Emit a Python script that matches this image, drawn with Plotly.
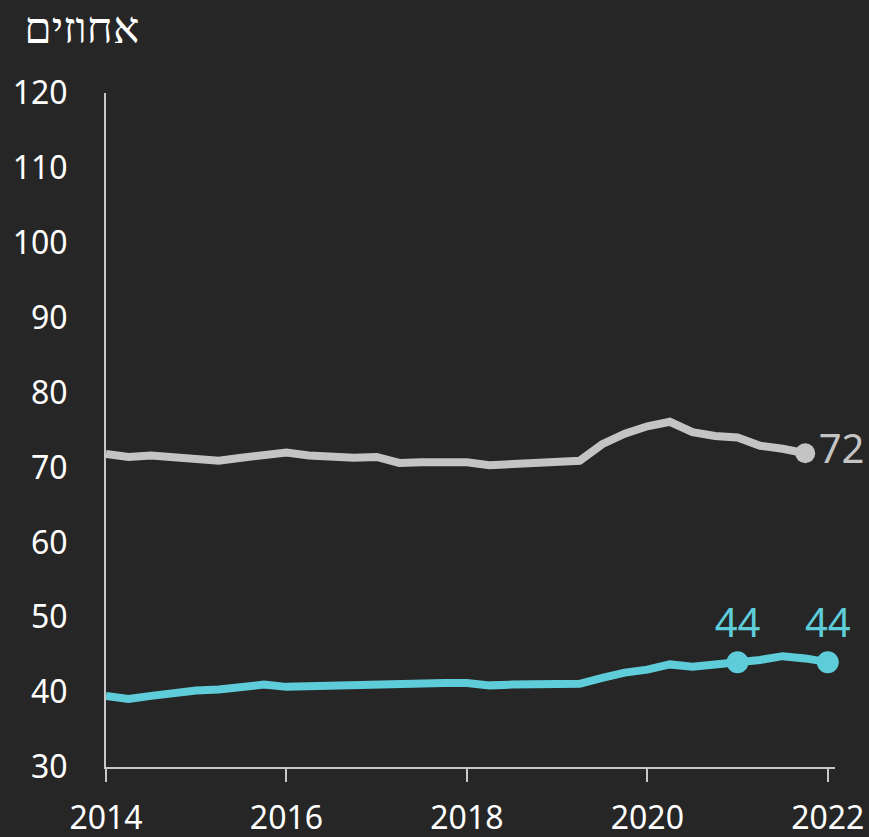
import plotly.graph_objects as go

quarters = [2014 + i * 0.25 for i in range(33)]

gray_values = [71.8, 71.4, 71.6, 71.4, 71.2, 70.9, 71.3, 71.7, 72.0, 71.6, 71.4, 71.3,
               71.4, 70.6, 70.7, 70.8, 70.7, 70.3, 70.4, 70.5, 70.6, 70.9, 73.1, 74.5,
               75.5, 76.1, 74.7, 74.2, 74.0, 72.9, 72.5, 71.9]
cyan_values = [39.5, 39.1, 39.5, 39.9, 40.2, 40.35, 40.7, 41.0, 40.7, 40.8, 40.9, 41.05,
               41.1, 41.1, 41.2, 41.2, 41.2, 40.9, 41.0, 41.0, 40.9, 41.1, 41.9, 42.6,
               43.0, 43.7, 43.4, 43.8, 44.0, 44.3, 44.8, 44.5, 44.0]

gray_label = "72"
cyan_label_idx = [28, 32]
cyan_labels = ["44", "44"]

BG = "#262626"
GRAY = "#c4c4c4"
CYAN = "#5ecdd9"
AXIS = "#c8c8c8"
FONT = "Noto Sans"

fig = go.Figure()

fig.add_trace(go.Scatter(x=quarters[:len(gray_values)], y=gray_values, mode="lines",
                         line=dict(color=GRAY, width=8), hoverinfo="skip"))
fig.add_trace(go.Scatter(x=quarters, y=cyan_values, mode="lines",
                         line=dict(color=CYAN, width=8), hoverinfo="skip"))

# end markers with labels
fig.add_trace(go.Scatter(x=[quarters[len(gray_values) - 1]], y=[gray_values[-1]],
                         mode="markers+text", text=[gray_label], textposition="middle right",
                         marker=dict(color=GRAY, size=20),
                         textfont=dict(family=FONT, size=40, color=GRAY), cliponaxis=False))
fig.add_trace(go.Scatter(x=[quarters[i] for i in cyan_label_idx],
                         y=[cyan_values[i] for i in cyan_label_idx],
                         mode="markers+text", text=cyan_labels, textposition="top center",
                         marker=dict(color=CYAN, size=22),
                         textfont=dict(family=FONT, size=40, color=CYAN), cliponaxis=False))

fig.update_layout(
    width=869, height=837, autosize=False,
    margin=dict(l=106, r=34, t=93, b=70, autoexpand=False),
    paper_bgcolor=BG, plot_bgcolor=BG,
    showlegend=False,
    font=dict(family=FONT, color="#ffffff", size=32),
    title=dict(text="אחוזים", x=0.028, xanchor="left", y=0.985, yanchor="top",
               font=dict(family=FONT, size=44, color="#ffffff")),
)
fig.update_xaxes(range=[2014, 2022.08], tickvals=[2014, 2016, 2018, 2020, 2022],
                 showgrid=False, zeroline=False, showline=True, linecolor=AXIS, linewidth=2,
                 ticks="outside", ticklen=13, tickwidth=2, tickcolor=AXIS,
                 ticklabelstandoff=9, automargin=False)
fig.update_yaxes(range=[30, 120], dtick=10, showgrid=False, zeroline=False,
                 showline=True, linecolor=AXIS, linewidth=2, ticks="",
                 ticklabelstandoff=30, automargin=False)

fig.write_html("out.html", config={"responsive": False, "displayModeBar": False},
               post_script="document.body.style.margin='0';"
                           "document.body.style.background='#262626';"
                           "document.body.style.overflow='hidden';")
